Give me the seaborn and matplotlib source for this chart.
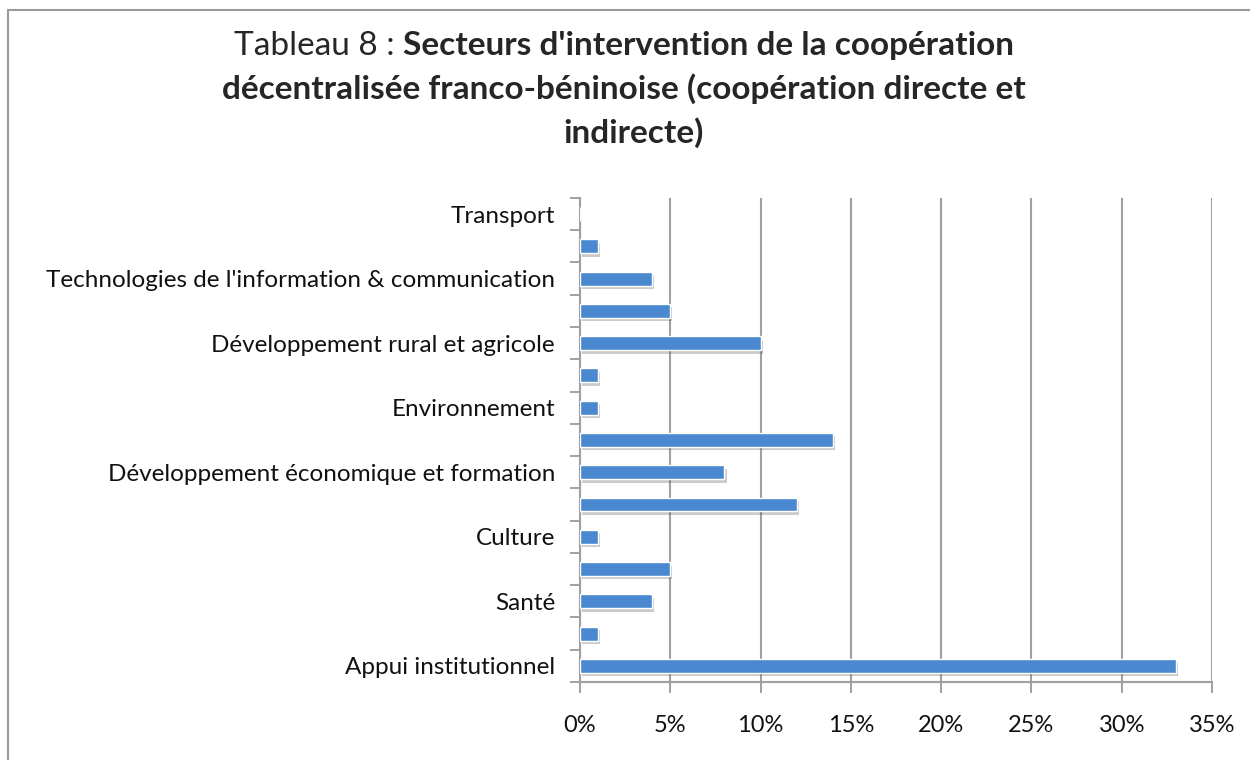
import matplotlib
matplotlib.use("Agg")
import matplotlib.pyplot as plt
import matplotlib.patheffects as pe
from matplotlib.patches import Rectangle
from matplotlib.ticker import FuncFormatter, FixedLocator
import seaborn as sns
import pandas as pd

# categories top -> bottom (every other label is hidden in the original)
secteurs = ["Transport", "Secteur 14", "Technologies de l'information & communication",
            "Secteur 12", "Développement rural et agricole", "Secteur 10", "Environnement",
            "Secteur 8", "Développement économique et formation", "Secteur 6", "Culture",
            "Secteur 4", "Santé", "Secteur 2", "Appui institutionnel"]
parts = [0, 1, 4, 5, 10, 1, 1, 14, 8, 12, 1, 5, 4, 1, 33]
labels_visibles = [s if i % 2 == 0 else "" for i, s in enumerate(secteurs)]
ticks_x = [0, 5, 10, 15, 20, 25, 30, 35]

df = pd.DataFrame({"secteur": secteurs, "part": parts})

sns.set_style("white")
plt.rcParams["font.family"] = ["Lato", "DejaVu Sans"]

fig = plt.figure(figsize=(12.5, 7.6), dpi=100)
ax = fig.add_axes([0.464, 0.1026, 0.5056, 0.637])

sns.barplot(data=df, x="part", y="secteur", order=secteurs, color="#4A89D0",
            saturation=1, width=0.43, ax=ax, zorder=3)
for p in ax.patches:
    p.set_path_effects([pe.SimplePatchShadow(offset=(1.5, -2.5), shadow_rgbFace="#555555", alpha=0.3),
                        pe.Normal()])

ax.set_xlim(0, 35)
ax.set_ylim(len(secteurs) - 0.5, -0.5)
ax.xaxis.set_major_locator(FixedLocator(ticks_x))
ax.xaxis.set_major_formatter(FuncFormatter(lambda v, _: f"{v:.0f}%"))
ax.set_yticks(range(len(secteurs)))
ax.set_yticklabels(labels_visibles)
ax.set_yticks([i - 0.5 for i in range(len(secteurs) + 1)], minor=True)
ax.tick_params(axis="y", which="major", length=0, pad=18, labelsize=17.5, labelcolor="#111111")
ax.tick_params(axis="y", which="minor", length=7, width=1.4, color="#A0A0A0", direction="out", left=True)
ax.tick_params(axis="x", which="major", length=8, width=1.4, color="#A0A0A0", direction="out",
               bottom=True, pad=16, labelsize=17, labelcolor="#111111")

ax.grid(axis="x", color="#A0A0A0", linewidth=1.5, zorder=0)
ax.set_axisbelow(True)
for side in ["top", "right"]:
    ax.spines[side].set_visible(False)
for side in ["left", "bottom"]:
    ax.spines[side].set_color("#A0A0A0")
    ax.spines[side].set_linewidth(1.5)
ax.set_xlabel("")
ax.set_ylabel("")

# title: normal prefix + bold rest on first line
cx = 0.499
fs = 24
t1a = fig.text(0, 0.94, "Tableau 8 : ", fontsize=fs, ha="left", va="center")
t1b = fig.text(0, 0.94, "Secteurs d'intervention de la coopération", fontsize=fs,
               fontweight="bold", ha="left", va="center")
r = fig.canvas.get_renderer()
wa = t1a.get_window_extent(r).width / fig.bbox.width
wb = t1b.get_window_extent(r).width / fig.bbox.width
x0 = cx - (wa + wb) / 2
t1a.set_x(x0)
t1b.set_x(x0 + wa)
fig.text(cx, 0.883, "décentralisée franco-béninoise (coopération directe et", fontsize=fs,
         fontweight="bold", ha="center", va="center")
fig.text(cx + 0.008, 0.825, "indirecte)", fontsize=fs, fontweight="bold", ha="center", va="center")

# chart frame
fig.patches.append(Rectangle((8 / 1250, -0.2), 1.2, 1.2 - 10 / 760, transform=fig.transFigure,
                             fill=False, edgecolor="#9A9A9A", linewidth=1.5))

fig.savefig("out.png", dpi=100)
